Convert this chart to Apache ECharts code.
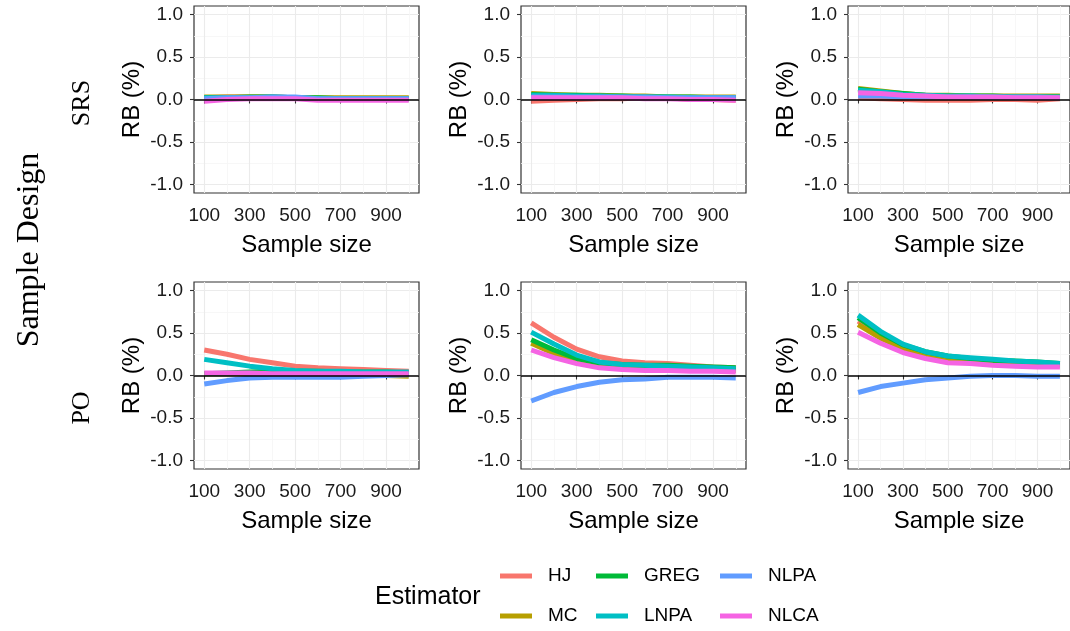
<!DOCTYPE html>
<html>
<head>
<meta charset="utf-8">
<script src="https://cdn.jsdelivr.net/npm/echarts@6/dist/echarts.min.js"></script>
<style>
html,body{margin:0;padding:0;background:#fff;}
#chart{width:1070px;height:631px;}
</style>
</head>
<body>
<div id="chart"></div>
<script>
// ---- data ----
const sampleSizes = [100, 200, 300, 400, 500, 600, 700, 800, 900, 1000];
const estimators = ['HJ', 'MC', 'GREG', 'LNPA', 'NLPA', 'NLCA'];
const estimatorColors = ['#F8766D', '#B79F00', '#00BA38', '#00BFC4', '#619CFF', '#F564E3'];
const designs = ['SRS', 'PO'];
const xTickValues = [100, 300, 500, 700, 900];
const xMinorValues = [200, 400, 600, 800, 1000];
const yTickValues = [-1, -0.5, 0, 0.5, 1];
const yMinorValues = [-0.75, -0.25, 0.25, 0.75];

// Each panel: rows in order HJ, MC, GREG, LNPA, NLPA, NLCA
const SRS_1 = [
  [0.02, 0.03, 0.03, 0.03, 0.02, 0.01, 0.01, 0.01, 0.01, 0.01],
  [0.03, 0.03, 0.03, 0.03, 0.02, 0.02, 0.02, 0.02, 0.02, 0.02],
  [0.02, 0.02, 0.03, 0.03, 0.02, 0.02, 0.01, 0.01, 0.01, 0.01],
  [0.02, 0.02, 0.02, 0.03, 0.02, 0.01, 0.01, 0.01, 0.01, 0.01],
  [0.01, 0.02, 0.02, 0.03, 0.03, 0.01, 0.01, 0.01, 0.01, 0.01],
  [-0.02, 0.00, 0.01, 0.01, 0.01, -0.01, -0.01, -0.01, -0.01, -0.01]
];
const SRS_2 = [
  [-0.02, -0.01, 0.00, 0.01, 0.01, 0.02, 0.02, 0.00, 0.00, -0.01],
  [0.07, 0.06, 0.05, 0.05, 0.04, 0.04, 0.03, 0.03, 0.03, 0.03],
  [0.06, 0.05, 0.05, 0.04, 0.04, 0.03, 0.03, 0.03, 0.02, 0.02],
  [0.05, 0.05, 0.04, 0.04, 0.03, 0.03, 0.03, 0.02, 0.02, 0.02],
  [0.03, 0.03, 0.03, 0.03, 0.03, 0.03, 0.02, 0.02, 0.02, 0.02],
  [0.02, 0.02, 0.02, 0.02, 0.02, 0.01, 0.01, 0.00, 0.00, -0.01]
];
const SRS_3 = [
  [0.02, 0.01, 0.00, -0.01, -0.01, -0.01, 0.00, 0.00, -0.01, 0.01],
  [0.13, 0.10, 0.07, 0.05, 0.05, 0.04, 0.04, 0.04, 0.04, 0.04],
  [0.12, 0.09, 0.07, 0.05, 0.04, 0.04, 0.04, 0.03, 0.03, 0.03],
  [0.11, 0.09, 0.06, 0.05, 0.04, 0.04, 0.03, 0.03, 0.03, 0.03],
  [0.04, 0.04, 0.03, 0.03, 0.03, 0.03, 0.03, 0.03, 0.03, 0.02],
  [0.08, 0.07, 0.05, 0.04, 0.03, 0.03, 0.03, 0.02, 0.02, 0.02]
];
const PO_1 = [
  [0.30, 0.25, 0.19, 0.15, 0.11, 0.09, 0.08, 0.07, 0.06, 0.05],
  [0.02, 0.02, 0.02, 0.02, 0.02, 0.01, 0.01, 0.01, 0.00, -0.01],
  [0.02, 0.03, 0.04, 0.05, 0.05, 0.05, 0.04, 0.04, 0.04, 0.03],
  [0.19, 0.15, 0.11, 0.08, 0.06, 0.05, 0.05, 0.04, 0.04, 0.04],
  [-0.10, -0.06, -0.03, -0.02, -0.02, -0.02, -0.02, -0.01, 0.00, 0.01],
  [0.03, 0.03, 0.03, 0.02, 0.02, 0.02, 0.02, 0.02, 0.02, 0.02]
];
const PO_2 = [
  [0.62, 0.45, 0.31, 0.22, 0.17, 0.15, 0.14, 0.12, 0.10, 0.09],
  [0.38, 0.26, 0.17, 0.12, 0.10, 0.09, 0.09, 0.08, 0.07, 0.06],
  [0.42, 0.30, 0.20, 0.15, 0.13, 0.12, 0.12, 0.11, 0.10, 0.09],
  [0.51, 0.37, 0.24, 0.16, 0.13, 0.12, 0.11, 0.10, 0.09, 0.08],
  [-0.30, -0.20, -0.13, -0.08, -0.05, -0.04, -0.02, -0.02, -0.02, -0.03],
  [0.30, 0.21, 0.14, 0.09, 0.07, 0.06, 0.06, 0.05, 0.05, 0.04]
];
const PO_3 = [
  [0.64, 0.47, 0.34, 0.26, 0.21, 0.19, 0.17, 0.16, 0.14, 0.13],
  [0.60, 0.44, 0.32, 0.24, 0.19, 0.17, 0.15, 0.14, 0.13, 0.12],
  [0.68, 0.50, 0.36, 0.28, 0.23, 0.20, 0.18, 0.17, 0.16, 0.14],
  [0.71, 0.52, 0.37, 0.28, 0.23, 0.21, 0.19, 0.17, 0.16, 0.14],
  [-0.20, -0.13, -0.09, -0.05, -0.03, -0.01, 0.00, 0.00, -0.01, -0.01],
  [0.51, 0.38, 0.27, 0.20, 0.15, 0.14, 0.12, 0.11, 0.10, 0.10]
];
const panels = [SRS_1, SRS_2, SRS_3, PO_1, PO_2, PO_3];

// ---- layout ----
const colLeft = [194, 521, 848];
const rowTop = [6, 282];
const panelW = 225, panelH = 187;
const SANS = 'Liberation Sans, Arial, sans-serif';
const SERIF = 'Liberation Serif, Times New Roman, serif';

const grids = [], xAxes = [], yAxes = [], series = [];
panels.forEach((panel, p) => {
  const r = Math.floor(p / 3), c = p % 3;
  grids.push({
    left: colLeft[c], top: rowTop[r], width: panelW, height: panelH,
    show: true, borderColor: '#333333', borderWidth: 1.2, backgroundColor: '#fff'
  });
  xAxes.push({
    type: 'value', gridIndex: p, min: 55, max: 1045, position: 'bottom',
    name: 'Sample size', nameLocation: 'middle', nameGap: 40,
    nameTextStyle: {fontFamily: SANS, fontSize: 24, color: '#000'},
    axisLine: {show: false},
    axisTick: {show: true, length: 4, customValues: xTickValues, lineStyle: {color: '#333', width: 1.1}},
    axisLabel: {customValues: xTickValues, margin: 13, fontFamily: SANS, fontSize: 19, color: '#1a1a1a'},
    splitLine: {show: true, lineStyle: {color: '#ebebeb', width: 1.1}}
  });
  xAxes.push({
    type: 'value', gridIndex: p, min: 55, max: 1045, position: 'top',
    axisLine: {show: false},
    axisTick: {show: false, customValues: xMinorValues},
    axisLabel: {show: false, customValues: xMinorValues},
    splitLine: {show: true, lineStyle: {color: '#f5f5f5', width: 0.8}}
  });
  yAxes.push({
    type: 'value', gridIndex: p, min: -1.1, max: 1.1, position: 'left',
    name: 'RB (%)', nameLocation: 'middle', nameGap: 50, nameRotate: 90,
    nameTextStyle: {fontFamily: SANS, fontSize: 24, color: '#000'},
    axisLine: {show: false},
    axisTick: {show: true, length: 4, customValues: yTickValues, lineStyle: {color: '#333', width: 1.1}},
    axisLabel: {customValues: yTickValues, margin: 11, fontFamily: SANS, fontSize: 19, color: '#1a1a1a',
      formatter: v => v.toFixed(1)},
    splitLine: {show: true, lineStyle: {color: '#ebebeb', width: 1.1}}
  });
  yAxes.push({
    type: 'value', gridIndex: p, min: -1.1, max: 1.1, position: 'right',
    axisLine: {show: false},
    axisTick: {show: false, customValues: yMinorValues},
    axisLabel: {show: false, customValues: yMinorValues},
    splitLine: {show: true, lineStyle: {color: '#f5f5f5', width: 0.8}}
  });
  panel.forEach((vals, e) => {
    const s = {
      type: 'line', name: estimators[e],
      xAxisIndex: p * 2, yAxisIndex: p * 2,
      data: sampleSizes.map((x, i) => [x, vals[i]]),
      showSymbol: false, symbol: 'none', smooth: false,
      lineStyle: {width: 5, color: estimatorColors[e], cap: 'butt'},
      itemStyle: {color: estimatorColors[e]},
      z: 2 + e * 0.01, animation: false, silent: true
    };
    if (e === panel.length - 1) {
      s.markLine = {
        silent: true, symbol: 'none', animation: false,
        label: {show: false},
        lineStyle: {color: '#000', width: 1.5, type: 'solid'},
        data: [{yAxis: 0}]
      };
    }
    series.push(s);
  });
});

// legend: 3 columns x 2 rows, column-major
const legendLefts = [495, 591, 715];
const legendRowTops = [561, 601];
const legends = estimators.map((name, i) => ({
  left: legendLefts[Math.floor(i / 2)], top: legendRowTops[i % 2],
  data: [name], itemWidth: 32, itemHeight: 5, icon: 'rect', selectedMode: false,
  textStyle: {fontFamily: SANS, fontSize: 19, color: '#000', lineHeight: 20, padding: [0, 0, 0, 11]}
}));

const chart = echarts.init(document.getElementById('chart'), null, {renderer: 'canvas'});
chart.setOption({
  animation: false,
  color: estimatorColors,
  grid: grids, xAxis: xAxes, yAxis: yAxes, series: series,
  legend: legends,
  graphic: [
    {type: 'text', left: 375, top: 585, style: {text: 'Estimator', font: '25px ' + SANS, fill: '#000'}},
    {type: 'text', x: 82, y: 103, rotation: Math.PI / 2,
      style: {text: designs[0], font: '26px ' + SERIF, fill: '#000', align: 'center', verticalAlign: 'middle'}},
    {type: 'text', x: 82, y: 408, rotation: Math.PI / 2,
      style: {text: designs[1], font: '26px ' + SERIF, fill: '#000', align: 'center', verticalAlign: 'middle'}},
    {type: 'text', x: 30, y: 250, rotation: Math.PI / 2,
      style: {text: 'Sample Design', font: '32px ' + SERIF, fill: '#000', align: 'center', verticalAlign: 'middle'}}
  ]
});
</script>
</body>
</html>
